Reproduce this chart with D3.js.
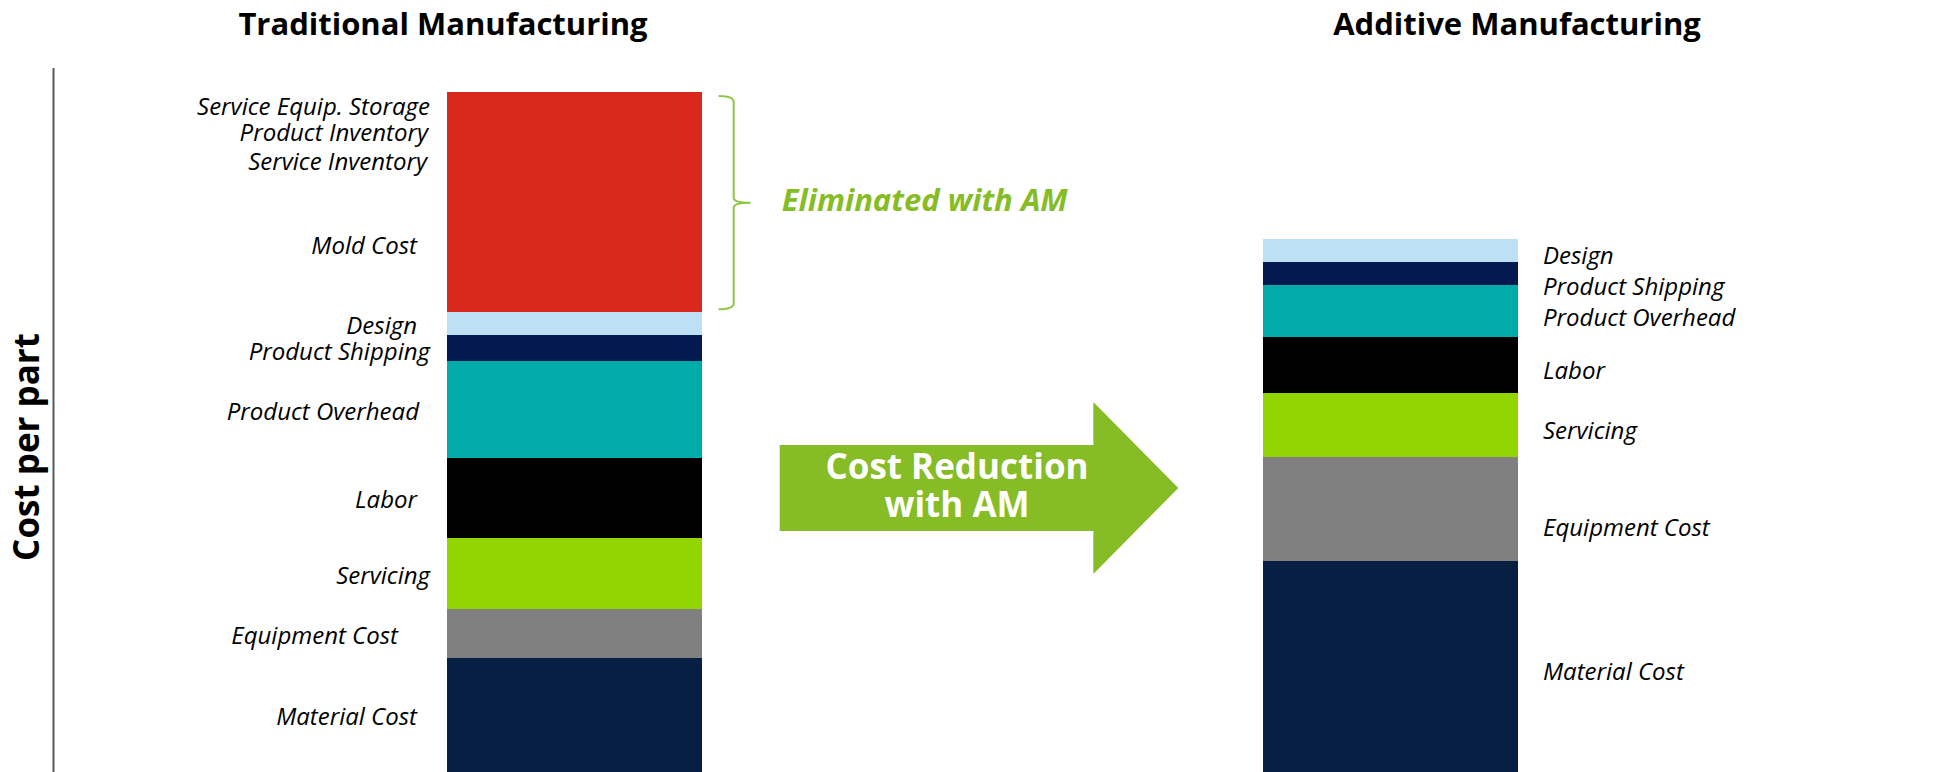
<!DOCTYPE html>
<html>
<head>
<meta charset="utf-8">
<script src="https://cdn.jsdelivr.net/npm/d3@7"></script>
<style>
  body { margin: 0; background: #fff; }
  text { font-family: 'Open Sans', sans-serif; }
</style>
</head>
<body>
<svg id="chart"></svg>
<script>
// stacked cost components, bottom to top
const bars = ['Traditional Manufacturing', 'Additive Manufacturing']
const tradCategories = ['Material Cost', 'Equipment Cost', 'Servicing', 'Labor', 'Product Overhead',
  'Product Shipping', 'Design', 'Mold Cost', 'Service Inventory', 'Product Inventory', 'Service Equip. Storage']
const tradValues = [16.8, 7.2, 10.4, 11.8, 14.2, 3.9, 3.3, 20.3, 4.4, 4.1, 3.6]
const amCategories = ['Material Cost', 'Equipment Cost', 'Servicing', 'Labor', 'Product Overhead',
  'Product Shipping', 'Design']
const amValues = [31.1, 15.2, 9.4, 8.2, 7.7, 3.4, 3.4]
const eliminated = ['Mold Cost', 'Service Inventory', 'Product Inventory', 'Service Equip. Storage']

const width = 1944
const height = 772

// the left labels in the original don't share one right edge
const leftPad = { 'Mold Cost': 13, 'Design': 13, 'Product Overhead': 11, 'Labor': 13,
  'Equipment Cost': 32, 'Material Cost': 13, 'Product Inventory': 2, 'Service Inventory': 3 }
// and one right label sits lower than its segment centre
const rightNudge = { 'Equipment Cost': 14 }

const svg = d3.select('#chart')
  .attr('width', width)
  .attr('height', height)

const color = d3.scaleOrdinal()
  .domain(tradCategories)
  .range(['#061f42', '#808080', '#93d500', '#000000', '#00abaa', '#03194f', '#bee0f4',
    '#d9291c', '#d9291c', '#d9291c', '#d9291c'])

const xScale = d3.scaleBand()
  .domain(bars)
  .range([447, 1518])
  .paddingInner(0.688)
  .paddingOuter(0)

const yScale = d3.scaleLinear()
  .domain([0, 100])
  .range([772, 92])

function stack(cats, vals) {
  var acc = 0
  return cats.map((c, i) => {
    var d = { cat: c, y0: acc, y1: acc + vals[i] }
    acc += vals[i]
    return d
  })
}

// push labels down so they don't collide
function dodge(segs, offset, gap) {
  var ys = segs.slice().reverse().map((d) => yScale((d.y0 + d.y1) / 2) + offset)
  for (var i = 1; i < ys.length; i++) {
    if (ys[i] - ys[i - 1] < gap) ys[i] = ys[i - 1] + gap
  }
  return ys.reverse()
}

function drawBar(name, cats, vals, side, gap, offset) {
  var segs = stack(cats, vals)
  var x0 = xScale(name)
  var bw = xScale.bandwidth()
  var g = svg.append('g')

  g.selectAll('rect')
    .data(segs)
    .enter()
    .append('rect')
    .attr('x', x0)
    .attr('width', bw)
    .attr('y', (d) => yScale(d.y1))
    .attr('height', (d) => yScale(d.y0) - yScale(d.y1))
    .attr('shape-rendering', 'crispEdges')
    .style('fill', (d) => color(d.cat))

  var ly = dodge(segs, offset, gap)
  g.selectAll('.segLabel')
    .data(segs)
    .enter()
    .append('text')
    .classed('segLabel', true)
    .attr('x', (d) => side === 'left' ? x0 - 17 - (leftPad[d.cat] || 0) : x0 + bw + 25)
    .attr('y', (d, i) => ly[i] + (side === 'right' ? (rightNudge[d.cat] || 0) : 0))
    .attr('dy', '0.35em')
    .style('text-anchor', side === 'left' ? 'end' : 'start')
    .style('font-style', 'italic')
    .style('font-size', '24px')
    .style('fill', '#000')
    .text((d) => d.cat)
  return segs
}

var tradSegs = drawBar(bars[0], tradCategories, tradValues, 'left', 26, 2)
drawBar(bars[1], amCategories, amValues, 'right', 31, 5)

// bar titles
svg.append('text')
  .attr('x', 443).attr('y', 35)
  .style('text-anchor', 'middle')
  .style('font-weight', 'bold')
  .style('font-size', '31px')
  .text(bars[0])

svg.append('text')
  .attr('x', 1517).attr('y', 35)
  .style('text-anchor', 'middle')
  .style('font-weight', 'bold')
  .style('font-size', '31px')
  .text(bars[1])

// y axis line + label
svg.append('line')
  .attr('x1', 53.5).attr('x2', 53.5)
  .attr('y1', 68).attr('y2', height)
  .style('stroke', '#58595b')
  .style('stroke-width', 2)

svg.append('text')
  .attr('transform', 'translate(39,' + 447 + ') rotate(-90)')
  .style('text-anchor', 'middle')
  .style('font-weight', 'bold')
  .style('font-size', '35px')
  .text('Cost per part')

// brace around the eliminated part
var elim = tradSegs.filter((d) => eliminated.indexOf(d.cat) >= 0)
var bTop = yScale(d3.max(elim, (d) => d.y1)) + 4
var bBot = yScale(d3.min(elim, (d) => d.y0)) - 3
var bMid = (bTop + bBot) / 2
var bx = xScale(bars[0]) + xScale.bandwidth() + 17
svg.append('path')
  .attr('d', 'M' + bx + ',' + bTop +
    ' Q' + (bx + 15) + ',' + bTop + ' ' + (bx + 15) + ',' + (bTop + 6) +
    ' L' + (bx + 15) + ',' + (bMid - 5) +
    ' Q' + (bx + 15) + ',' + bMid + ' ' + (bx + 32) + ',' + bMid +
    ' Q' + (bx + 15) + ',' + bMid + ' ' + (bx + 15) + ',' + (bMid + 5) +
    ' L' + (bx + 15) + ',' + (bBot - 6) +
    ' Q' + (bx + 15) + ',' + bBot + ' ' + bx + ',' + bBot)
  .style('fill', 'none')
  .style('stroke', '#8dc63f')
  .style('stroke-width', 2)

svg.append('text')
  .attr('x', bx + 63).attr('y', bMid + 8)
  .style('font-weight', 'bold')
  .style('font-style', 'italic')
  .style('font-size', '31px')
  .style('fill', '#86bc25')
  .text('Eliminated with AM')

// big arrow between bars
var ax0 = xScale(bars[0]) + xScale.bandwidth() + 78
var ax1 = xScale(bars[1]) - 85
var ay = 488
svg.append('polygon')
  .attr('points', [
    [ax0, ay - 43], [ax1 - 85, ay - 43], [ax1 - 85, ay - 86], [ax1, ay],
    [ax1 - 85, ay + 86], [ax1 - 85, ay + 43], [ax0, ay + 43]
  ].map((p) => p.join(',')).join(' '))
  .style('fill', '#86bc25')

svg.append('text')
  .attr('x', 957).attr('y', 479)
  .style('text-anchor', 'middle')
  .style('font-weight', 'bold')
  .style('font-size', '35px')
  .style('fill', '#fff')
  .text('Cost Reduction')

svg.append('text')
  .attr('x', 957).attr('y', 517)
  .style('text-anchor', 'middle')
  .style('font-weight', 'bold')
  .style('font-size', '35px')
  .style('fill', '#fff')
  .text('with AM')
</script>
</body>
</html>
